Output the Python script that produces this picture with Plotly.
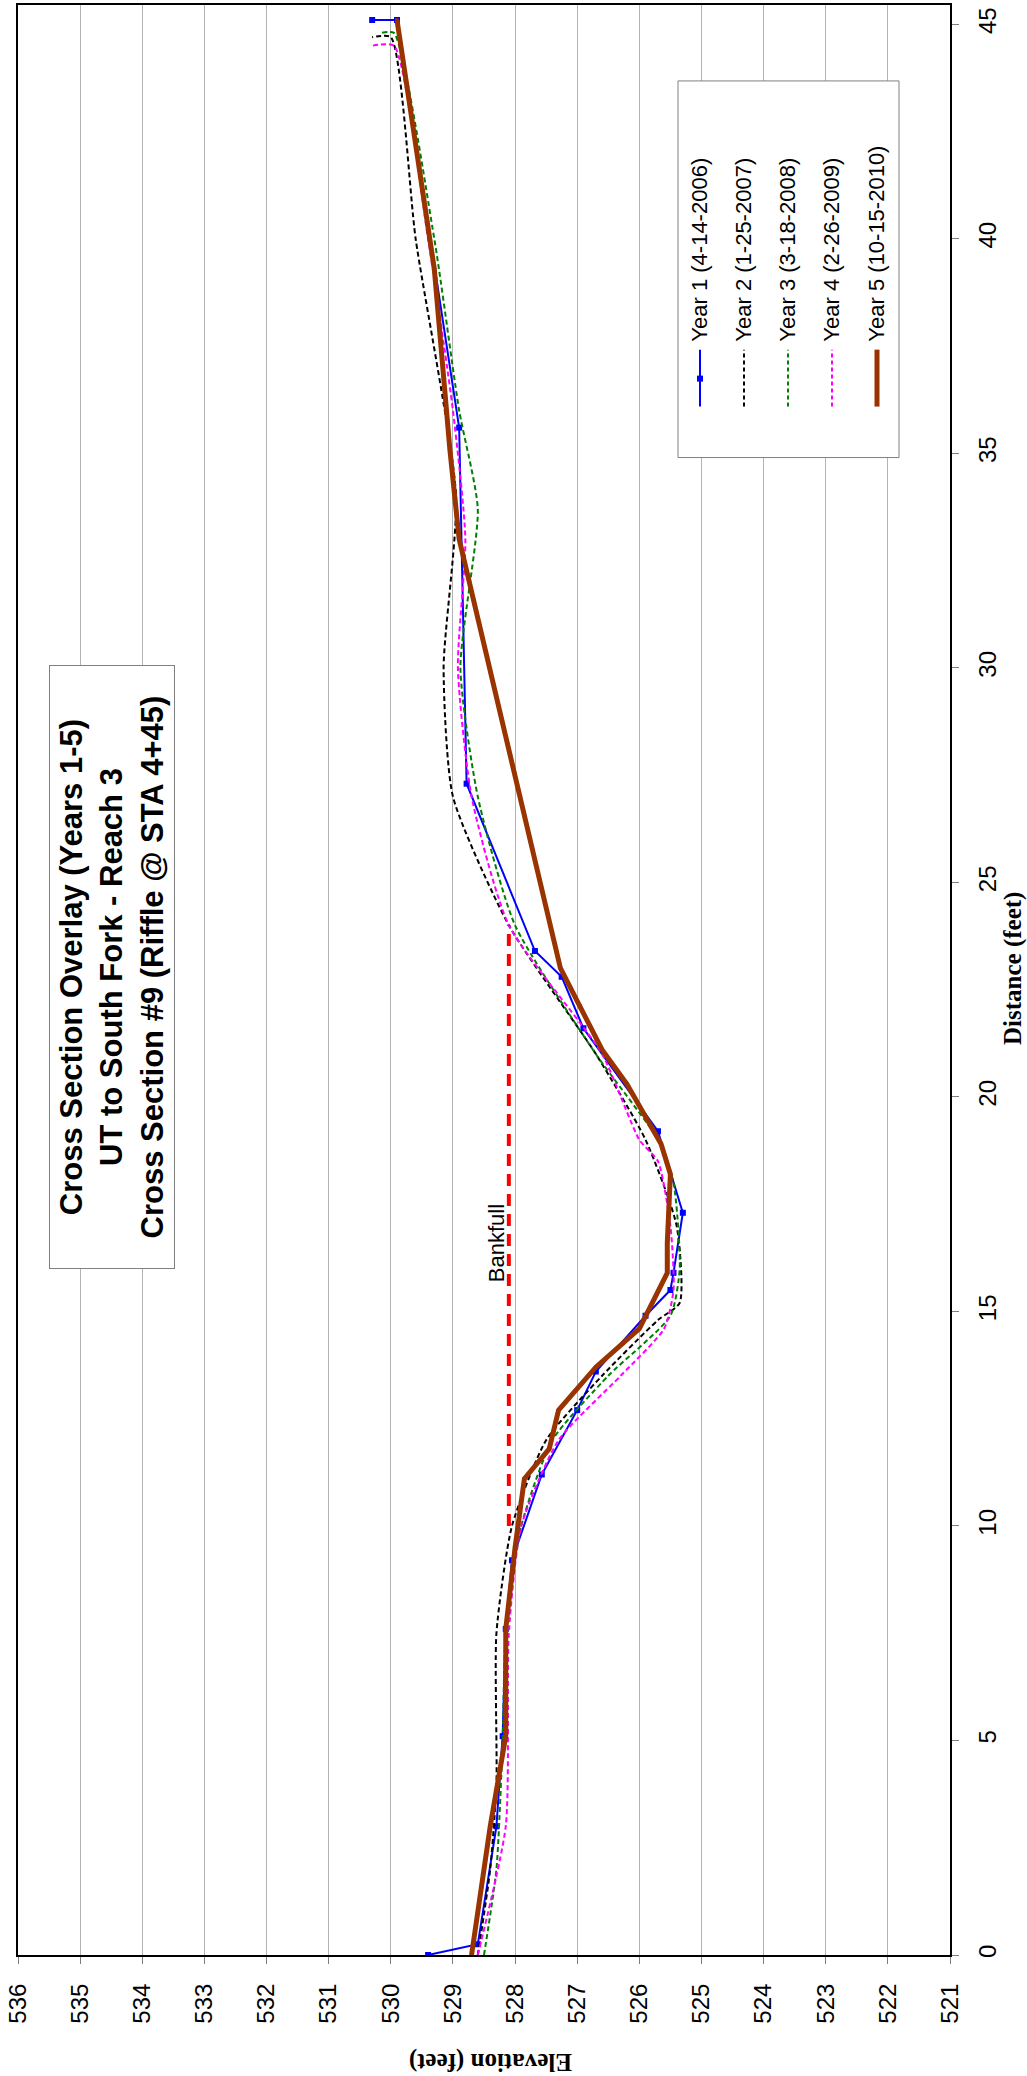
import plotly.graph_objects as go

# ---------------- data (distance ft, elevation ft) ----------------
y1_dist = [0.0, 0.25, 3.0, 5.1, 7.6, 9.2, 11.2, 12.7, 13.6, 14.9, 15.5, 15.9, 17.3, 19.2, 21.6, 22.8, 23.4, 27.3, 35.6, 45.1, 45.1]
y1_elev = [529.4, 528.6, 528.3, 528.2, 528.15, 528.05, 527.57, 527.0, 526.7, 525.9, 525.5, 525.45, 525.3, 525.7, 526.9, 527.25, 527.68, 528.78, 528.9, 529.9, 530.3]

y2_dist = [0.0, 2.0, 4.0, 7.5, 10.0, 12.0, 13.5, 14.8, 15.2, 17.0, 19.0, 21.0, 24.0, 27.0, 30.0, 34.0, 40.0, 44.7, 44.7]
y2_elev = [528.6, 528.4, 528.3, 528.3, 528.05, 527.5, 526.6, 525.7, 525.35, 525.4, 525.9, 526.7, 528.1, 529.0, 529.15, 528.95, 529.6, 530.0, 530.3]

y3_dist = [0.0, 2.0, 5.0, 7.5, 10.0, 12.0, 13.5, 14.9, 16.0, 18.0, 19.0, 21.0, 24.0, 27.0, 30.0, 33.7, 36.0, 40.0, 44.8, 44.8]
y3_elev = [528.5, 528.3, 528.2, 528.15, 527.9, 527.4, 526.5, 525.5, 525.35, 525.45, 525.7, 526.7, 528.0, 528.6, 528.88, 528.6, 528.9, 529.3, 529.95, 530.15]

y4_dist = [0.0, 3.0, 7.5, 10.0, 12.0, 13.5, 14.6, 15.5, 17.0, 18.5, 19.0, 21.0, 24.0, 27.0, 30.0, 33.0, 36.0, 40.0, 44.5, 44.5]
y4_elev = [528.6, 528.15, 528.1, 527.9, 527.3, 526.3, 525.6, 525.45, 525.5, 525.7, 526.0, 526.6, 528.1, 528.7, 528.92, 528.8, 529.0, 529.4, 529.95, 530.3]

y5_dist = [0.0, 3.0, 5.1, 7.6, 9.5, 11.1, 11.8, 12.7, 13.7, 14.6, 15.9, 16.6, 18.2, 18.9, 20.3, 21.1, 23.0, 33.0, 35.1, 39.3, 45.1]
y5_elev = [528.7, 528.4, 528.15, 528.15, 528.0, 527.85, 527.45, 527.3, 526.7, 526.0, 525.55, 525.55, 525.5, 525.65, 526.2, 526.6, 527.27, 528.9, 529.05, 529.3, 529.9]

bankfull_elev = [528.1, 528.1]
bankfull_dist = [10.0, 24.0]

series_names = ["Year 1 (4-14-2006)", "Year 2 (1-25-2007)", "Year 3 (3-18-2008)",
                "Year 4 (2-26-2009)", "Year 5 (10-15-2010)"]
title_lines = ["Cross Section Overlay (Years 1-5)", "UT to South Fork - Reach 3",
               "Cross Section #9 (Riffle @ STA 4+45)"]
elev_ticks = list(range(521, 537))
dist_ticks = [0, 5, 10, 15, 20, 25, 30, 35, 40, 45]

# ---------------- layout geometry (pixels) ----------------
W, H = 1027, 2076
L, R, T, B = 18, 950, 3, 1955   # plot area edges


def px(xp):
    return (xp - L) / (R - L)


def py(yp):
    return (B - yp) / (B - T)


colors = ["#0000FF", "#000000", "#008000", "#FF00FF", "#993300"]

fig = go.Figure()
fig.add_trace(go.Scatter(x=y1_elev, y=y1_dist, mode="lines+markers",
                         line=dict(color=colors[0], width=2),
                         marker=dict(symbol="square", size=6, color=colors[0]),
                         name=series_names[0]))
fig.add_trace(go.Scatter(x=y2_elev, y=y2_dist, mode="lines",
                         line=dict(color=colors[1], width=2, dash="5px,3px", shape="spline", smoothing=0.6),
                         name=series_names[1]))
fig.add_trace(go.Scatter(x=y3_elev, y=y3_dist, mode="lines",
                         line=dict(color=colors[2], width=2, dash="5px,3px", shape="spline", smoothing=0.6),
                         name=series_names[2]))
fig.add_trace(go.Scatter(x=y4_elev, y=y4_dist, mode="lines",
                         line=dict(color=colors[3], width=2, dash="5px,3px", shape="spline", smoothing=0.6),
                         name=series_names[3]))
fig.add_trace(go.Scatter(x=y5_elev, y=y5_dist, mode="lines+markers",
                         line=dict(color=colors[4], width=5),
                         marker=dict(size=4, color=colors[4]),
                         name=series_names[4]))
fig.add_trace(go.Scatter(x=bankfull_elev, y=bankfull_dist, mode="lines",
                         line=dict(color="#FF0000", width=4, dash="12px,8px"),
                         name="Bankfull"))

annotations = []
shapes = []

# Bankfull label
annotations.append(dict(x=528.3, y=16.6, xref="x", yref="y", text="Bankfull",
                        textangle=-90, showarrow=False,
                        font=dict(family="Liberation Sans, Arial", size=22, color="black")))

# Title box
annotations.append(dict(x=px(112), y=py(966), xref="paper", yref="paper",
                        xanchor="center", yanchor="middle",
                        text="<br>".join("<b>%s</b>" % t for t in title_lines),
                        textangle=-90, showarrow=False, align="center",
                        width=600, height=122,
                        bgcolor="white", bordercolor="#808080", borderwidth=1,
                        font=dict(family="Liberation Sans, Arial", size=31, color="black")))

# Axis titles
annotations.append(dict(x=px(491), y=py(2062), xref="paper", yref="paper",
                        xanchor="center", yanchor="middle",
                        text="<b>Elevation (feet)</b>", textangle=180, showarrow=False,
                        font=dict(family="Liberation Serif, Times New Roman", size=25, color="black")))
annotations.append(dict(x=px(1013), y=py(968), xref="paper", yref="paper",
                        xanchor="center", yanchor="middle",
                        text="<b>Distance (feet)</b>", textangle=-90, showarrow=False,
                        font=dict(family="Liberation Serif, Times New Roman", size=25, color="black")))

# Manual rotated legend
shapes.append(dict(type="rect", xref="paper", yref="paper",
                   x0=px(678), x1=px(899), y0=py(456), y1=py(79),
                   line=dict(color="#808080", width=1), fillcolor="white", layer="above"))
leg_x = [700, 744, 788, 832, 877]
leg_w = [2, 2, 2, 2, 5]
leg_dash = ["solid", "4px,3px", "4px,3px", "4px,3px", "solid"]
for i in range(5):
    shapes.append(dict(type="line", xref="paper", yref="paper",
                       x0=px(leg_x[i]), x1=px(leg_x[i]), y0=py(405), y1=py(348),
                       line=dict(color=colors[i], width=leg_w[i], dash=leg_dash[i]), layer="above"))
    annotations.append(dict(x=px(leg_x[i]), y=py(342), xref="paper", yref="paper",
                            text=series_names[i], textangle=-90, showarrow=False,
                            xanchor="center", yanchor="bottom",
                            font=dict(family="Liberation Sans, Arial", size=22, color="black")))
shapes.append(dict(type="rect", xref="paper", yref="paper",
                   x0=px(697), x1=px(703), y0=py(380), y1=py(374),
                   line=dict(color=colors[0], width=0), fillcolor=colors[0], layer="above"))

fig.update_layout(
    width=W, height=H,
    margin=dict(l=L, r=W - R, t=T, b=H - B, pad=0),
    paper_bgcolor="white", plot_bgcolor="white",
    showlegend=False,
    annotations=annotations, shapes=shapes,
    xaxis=dict(range=[536, 521], tickvals=elev_ticks, ticktext=[str(v) for v in elev_ticks],
               tickangle=-90, tickfont=dict(family="Liberation Sans, Arial", size=24, color="black"),
               showgrid=True, gridcolor="#b4b4b4", gridwidth=1,
               showline=True, linecolor="black", linewidth=2, mirror=True,
               ticks="outside", ticklen=7, tickcolor="#808080", zeroline=False,
               ticklabelstandoff=10),
    yaxis=dict(range=[0, 45.45], tickvals=dist_ticks, side="right",
               tickangle=-90, tickfont=dict(family="Liberation Sans, Arial", size=24, color="black"),
               showgrid=False, showline=True, linecolor="black", linewidth=2, mirror=True,
               ticks="outside", ticklen=7, tickcolor="#808080", zeroline=False,
               ticklabelstandoff=8),
)

fig.write_html("out.html", config={"displayModeBar": False},
               post_script="document.body.style.margin='0';document.body.style.overflow='hidden';")
